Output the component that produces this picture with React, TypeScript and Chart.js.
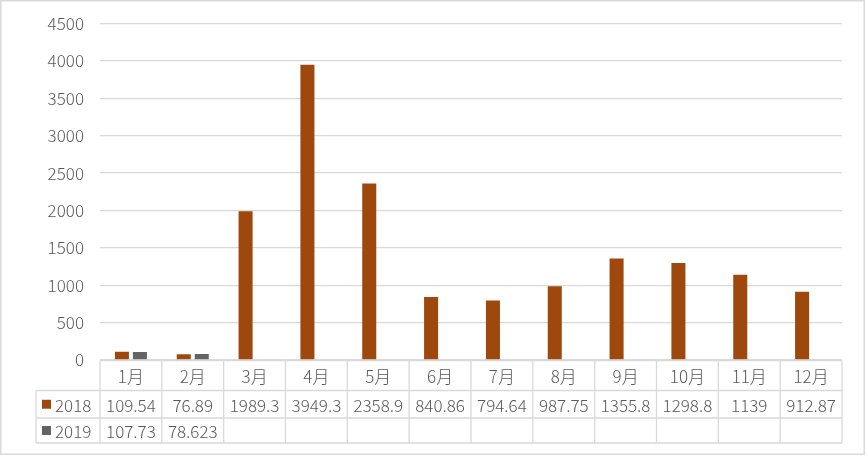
import React, { useEffect, useRef } from "react";
import { Chart, registerables } from "chart.js";

Chart.register(...registerables);

const categories = ["1月", "2月", "3月", "4月", "5月", "6月", "7月", "8月", "9月", "10月", "11月", "12月"];
const seriesNames = ["2018", "2019"];
const values2018: (number | null)[] = [109.54, 76.89, 1989.3, 3949.3, 2358.9, 840.86, 794.64, 987.75, 1355.8, 1298.8, 1139, 912.87];
const values2019: (number | null)[] = [107.73, 78.623, null, null, null, null, null, null, null, null, null, null];
const seriesColors = ["#9E480E", "#636363"];
const yMax = 4500;
const yStep = 500;

const FONT = '"Noto Sans CJK SC", "Liberation Sans", sans-serif';
const TEXT = "#595959";
const LINE = "#d9d9d9";

const tablePlugin = {
  id: "dataTable",
  afterDraw(chart: any) {
    const ctx = chart.ctx as CanvasRenderingContext2D;
    const x = chart.scales.x;
    const area = chart.chartArea;
    const n = categories.length;
    const w = (x.right - x.left) / n;
    const top = area.bottom + 0.5;
    const rowTops = [top, top + 30, top + 57.5, top + 82.5];
    const legendLeft = 36;
    ctx.save();
    ctx.strokeStyle = LINE;
    ctx.lineWidth = 1.3;
    ctx.beginPath();
    ctx.moveTo(x.left, rowTops[0]);
    ctx.lineTo(x.right, rowTops[0]);
    for (let r = 1; r < rowTops.length; r++) {
      ctx.moveTo(legendLeft, rowTops[r]);
      ctx.lineTo(x.right, rowTops[r]);
    }
    ctx.moveTo(legendLeft, rowTops[1]);
    ctx.lineTo(legendLeft, rowTops[3]);
    for (let i = 0; i <= n; i++) {
      const xb = i < n ? x.getPixelForValue(i) - w / 2 : x.getPixelForValue(n - 1) + w / 2;
      ctx.moveTo(xb, rowTops[0]);
      ctx.lineTo(xb, rowTops[3]);
    }
    ctx.stroke();

    ctx.fillStyle = TEXT;
    ctx.font = `300 17px ${FONT}`;
    ctx.textAlign = "center";
    ctx.textBaseline = "middle";
    const rowsData = [values2018, values2019];
    for (let i = 0; i < n; i++) {
      const cx = x.getPixelForValue(i);
      ctx.fillText(categories[i], cx, (rowTops[0] + rowTops[1]) / 2 + 1);
      for (let r = 0; r < rowsData.length; r++) {
        const v = rowsData[r][i];
        if (v !== null && v !== undefined) {
          ctx.fillText(String(v), cx, (rowTops[r + 1] + rowTops[r + 2]) / 2 + 1);
        }
      }
    }
    for (let r = 0; r < seriesNames.length; r++) {
      const cy = (rowTops[r + 1] + rowTops[r + 2]) / 2;
      ctx.fillStyle = seriesColors[r];
      ctx.fillRect(42, cy - 4.5, 9, 9);
      ctx.fillStyle = TEXT;
      ctx.textAlign = "left";
      ctx.fillText(seriesNames[r], 55, cy + 1);
    }
    ctx.lineWidth = 1.5;
    ctx.strokeRect(0.75, 0.75, 863.5, 453.5);
    ctx.restore();
  },
};

export default function App() {
  const ref = useRef<HTMLCanvasElement | null>(null);
  useEffect(() => {
    if (!ref.current) return;
    const chart = new Chart(ref.current, {
      type: "bar",
      data: {
        labels: categories,
        datasets: [
          { label: seriesNames[0], data: values2018, backgroundColor: seriesColors[0] },
          { label: seriesNames[1], data: values2019, backgroundColor: seriesColors[1] },
        ],
      },
      options: {
        responsive: false,
        animation: false,
        devicePixelRatio: 1,
        categoryPercentage: 0.582,
        barPercentage: 0.78,
        layout: { padding: { top: 23.5, right: 25, bottom: 96, left: 0 } },
        plugins: { legend: { display: false }, tooltip: { enabled: false } },
        scales: {
          x: { display: false },
          y: {
            min: 0,
            max: yMax,
            ticks: {
              stepSize: yStep,
              color: TEXT,
              font: { family: FONT, size: 17, weight: "300" },
              padding: 16,
              callback: (v: any) => String(v),
            },
            grid: { color: LINE, lineWidth: 1.3, drawTicks: false },
            border: { display: false },
            afterFit: (s: any) => {
              s.width = 100;
              s.paddingTop = 0;
              s.paddingBottom = 0;
            },
          },
        },
      },
      plugins: [tablePlugin],
    });
    return () => chart.destroy();
  }, []);
  return (
    <div style={{ position: "absolute", left: 0, top: 0, width: 867, height: 456, background: "#fff" }}>
      <canvas ref={ref} width={867} height={456} />
    </div>
  );
}
